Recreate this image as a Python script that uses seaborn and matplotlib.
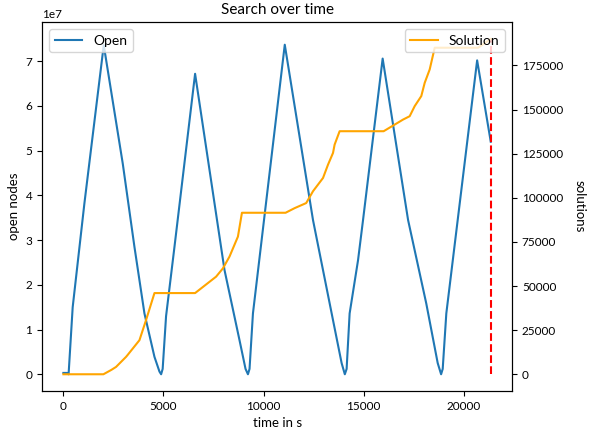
import seaborn as sns
import matplotlib
matplotlib.use("Agg")
import matplotlib.pyplot as plt
import pandas as pd

# open nodes over time (seconds, value in 1e7)
open_t = [0, 200, 260, 465, 1050, 2017, 2967, 3550, 4050, 4550, 4800, 4883, 4960,
          5130, 5550, 6580, 8050, 8800, 9100, 9220, 9300,
          9470, 11060, 12470, 13470, 13900, 14060, 14150,
          14300, 14720, 14970, 15950, 17220, 18130, 18700, 18870, 18950,
          19130, 20670, 21350]
open_v = [0.03, 0.03, 0.0, 1.5, 3.82, 7.36, 4.71, 2.85, 1.36, 0.39, 0.06, 0.0, 0.12,
          1.3, 2.85, 6.72, 2.33, 0.76, 0.12, 0.0, 0.12,
          1.36, 7.37, 3.45, 1.21, 0.25, 0.0, 0.12,
          1.36, 2.55, 3.45, 7.06, 3.45, 1.58, 0.25, 0.0, 0.12,
          1.36, 7.02, 5.20]

# solutions found over time
sol_t = [0, 2000, 2400, 2630, 3130, 3200, 3800, 4130, 4550, 6580, 7630, 7970, 8300, 8720, 8920,
         11100, 11550, 12130, 12470, 12970, 13220, 13470, 13550, 13800, 16000, 16970, 17300,
         17550, 17880, 18050, 18300, 18550, 20720, 21350]
sol_v = [0, 0, 2500, 4150, 9850, 10800, 19300, 30700, 46000, 46000, 55300, 60000, 66700, 78000, 91500,
         91500, 94100, 97000, 103700, 111200, 118750, 125400, 130100, 137700, 137700, 144300, 146200,
         151900, 157600, 165100, 172700, 185000, 185000, 190000]

end_time = 21350
open_top = 7.5e7

df_open = pd.DataFrame({"time": open_t, "open": [v * 1e7 for v in open_v]})
df_sol = pd.DataFrame({"time": sol_t, "solutions": sol_v})

plt.rcParams["font.family"] = ["Lato", "DejaVu Sans"]

fig, ax = plt.subplots(figsize=(5.9, 4.34), dpi=100)
fig.subplots_adjust(left=0.0712, right=0.868, top=0.949, bottom=0.099)

sns.lineplot(x="time", y="open", data=df_open, ax=ax, color="#1f77b4", label="Open",
             linewidth=1.5, estimator=None, sort=False)
ax.vlines(end_time, 0, open_top, colors="red", linestyles="dashed", linewidth=1.5)
ax.legend(loc="upper left", fontsize=10)
ax.set_xlabel("time in s", fontsize=9.5)
ax.set_ylabel("open nodes", fontsize=9.5)
ax.set_title("Search over time", fontsize=11)
ax.tick_params(labelsize=8.5)
ax.yaxis.get_offset_text().set_fontsize(8.5)

ax2 = ax.twinx()
sns.lineplot(x="time", y="solutions", data=df_sol, ax=ax2, color="orange", label="Solution",
             linewidth=1.5, estimator=None, sort=False)
ax2.legend(loc="upper right", fontsize=10)
ax2.set_ylabel("solutions", rotation=270, fontsize=9.5, labelpad=16)
ax2.tick_params(labelsize=8.5)

fig.savefig("out.png", dpi=100)
